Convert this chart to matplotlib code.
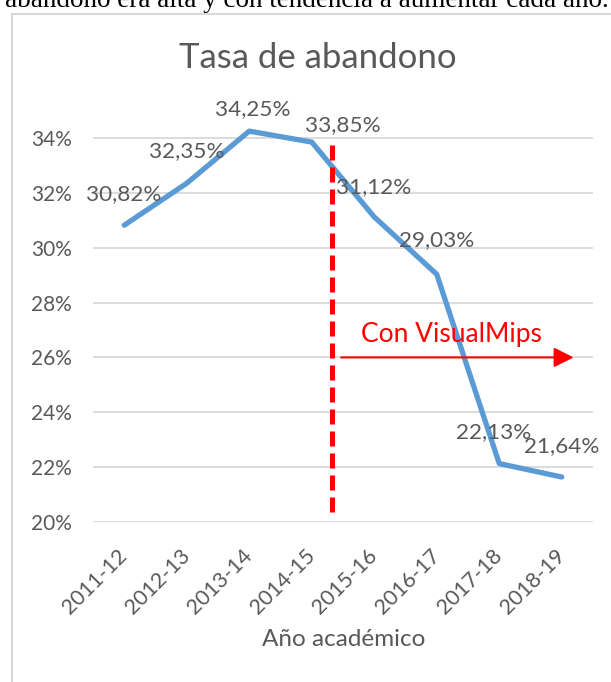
import matplotlib
matplotlib.use("Agg")
import matplotlib.pyplot as plt
from matplotlib.patches import Rectangle, FancyArrowPatch

# ---- data ----
years = ["2011-12", "2012-13", "2013-14", "2014-15", "2015-16", "2016-17", "2017-18", "2018-19"]
rates = [30.82, 32.35, 34.25, 33.85, 31.12, 29.03, 22.13, 21.64]
yticks = [20, 22, 24, 26, 28, 30, 32, 34]
title = "Tasa de abandono"
xlabel = "Año académico"
note = "Con VisualMips"
top_text = "abandono era alta y con tendencia a aumentar cada año."

# label offsets (pixels) for the data labels
label_offsets = [(-1, 31), (0, 32), (3, 22), (31, 17), (-1, 30), (0, 34), (-6, 31), (0, 31)]

W, H = 611, 682
DPI = 100
GREY = "#595959"
plt.rcParams["font.family"] = ["Lato", "DejaVu Sans"]

fig = plt.figure(figsize=(W / DPI, H / DPI), dpi=DPI)
fig.patch.set_facecolor("white")

# axes placement in pixels
left_px, right_px = 93, 593
y20_px, per_pct = 522, 27.43
ymin, ymax = 20, 35
top_px = y20_px - (ymax - ymin) * per_pct
ax = fig.add_axes([left_px / W, (H - y20_px) / H, (right_px - left_px) / W, (y20_px - top_px) / H])
ax.set_facecolor("none")

x = list(range(len(years)))
ax.set_xlim(-0.5, len(years) - 0.5)
ax.set_ylim(ymin, ymax)

for s in ax.spines.values():
    s.set_visible(False)
ax.set_yticks(yticks)
ax.set_yticklabels([f"{v}%" for v in yticks])
ax.yaxis.grid(True, color="#d9d9d9", linewidth=1.3)
ax.set_axisbelow(True)
ax.tick_params(axis="y", length=0, pad=15, labelsize=15, labelcolor=GREY)
ax.set_xticks(x)
ax.set_xticklabels(years, rotation=45, ha="right", va="center", rotation_mode="anchor")
ax.tick_params(axis="x", length=0, pad=22, labelsize=15.5, labelcolor=GREY)
for lbl in ax.get_xticklabels():
    lbl.set_x(lbl.get_position()[0])

ax.plot(x, rates, color="#5B9BD5", linewidth=3.8, solid_capstyle="round", solid_joinstyle="round",
        clip_on=False, zorder=3)

for xi, v, (dx, dy) in zip(x, rates, label_offsets):
    ax.annotate(f"{v:.2f}%".replace(".", ","), (xi, v), xytext=(dx, dy), textcoords="offset pixels",
                ha="center", va="center", fontsize=16.2, color=GREY, zorder=4, annotation_clip=False)

# red dashed separator between 2014-15 and 2015-16
ax.plot([3.32, 3.32], [20.36, 33.9], color="#ff0000", linewidth=3.6, linestyle=(0, (3, 1.4)),
        zorder=5, clip_on=False, dash_capstyle="butt")

# arrow and note
arr = FancyArrowPatch((3.47, 26), (7.19, 26), arrowstyle="-|>,head_length=0.6,head_width=0.3",
                      mutation_scale=20, color="#ff0000", linewidth=1.5, shrinkA=0, shrinkB=0, zorder=5)
ax.add_patch(arr)
ax.text(5.23, 26.82, note, color="#ff0000", fontsize=19, ha="center", va="center", zorder=5)

ax.set_xlabel(xlabel, fontsize=17.5, color=GREY)
ax.xaxis.set_label_coords((344 - left_px) / (right_px - left_px), -(640 - y20_px) / (y20_px - top_px))
ax.xaxis.label.set_va("center")

fig.text(318 / W, 1 - 58 / H, title, fontsize=25, color=GREY, ha="center", va="center")

# chart box border
fig.patches.append(Rectangle((11.5 / W, -0.05), 1.1, 1 - 13.5 / H + 0.05, transform=fig.transFigure,
                             fill=False, edgecolor="#d9d9d9", linewidth=1.5))

# cropped document text at the top
fig.text(5 / W, 1 - 7 / H, top_text, fontsize=19.5, color="black", family="Liberation Serif",
         ha="left", va="baseline")

fig.savefig("out.png", dpi=DPI)
